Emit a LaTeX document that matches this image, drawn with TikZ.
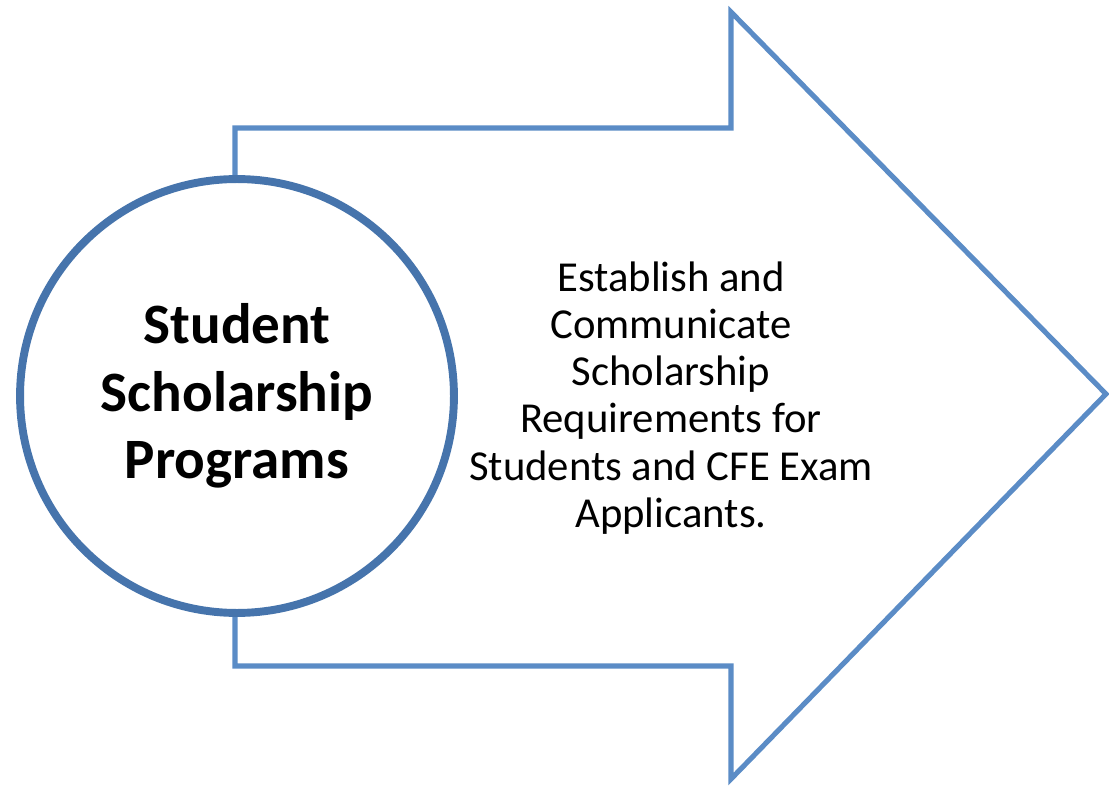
\documentclass[tikz,border=0pt]{standalone}
\usepackage{fontspec}
\setmainfont{Carlito}
\usepackage{xcolor}
\usetikzlibrary{positioning}
\definecolor{arrowblue}{RGB}{91,140,198}
\definecolor{ringblue}{RGB}{70,116,172}

\begin{document}
\begin{tikzpicture}[x=0.02cm, y=-0.02cm]
	\useasboundingbox (0, 0) rectangle (1109, 787);
	% big arrow
	\draw[arrowblue, line width=2.9pt, line join=miter, fill=white]
		(235, 128) -- (731, 128) -- (731, 12) -- (1106, 394) -- (731, 779) -- (731, 666) -- (235, 666) -- cycle;
	\node[circle, draw=ringblue, line width=4.5pt, fill=white, minimum size=8.68cm, align=center,
		font=\fontsize{32.5}{38.5}\selectfont\bfseries] (prog) at (237, 396) {Student\\Scholarship\\Programs};
	\node[align=center, font=\fontsize{24.3}{26.8}\selectfont] (req) at (671, 398)
		{Establish and\\Communicate\\Scholarship\\Requirements for\\Students and CFE Exam\\Applicants.};
\end{tikzpicture}
\end{document}
